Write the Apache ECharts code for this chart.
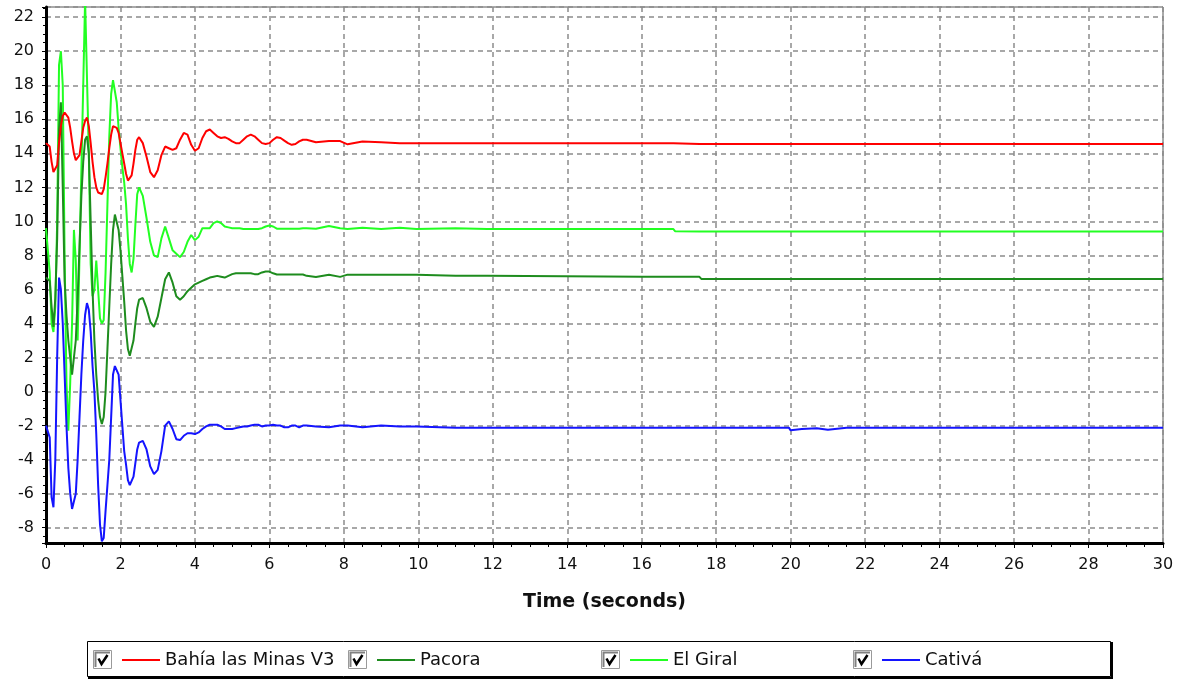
<!DOCTYPE html>
<html>
<head>
<meta charset="utf-8">
<title>Time (seconds)</title>
<script src="https://cdn.jsdelivr.net/npm/echarts@6/dist/echarts.min.js"></script>
<style>
    html, body { margin: 0; padding: 0; background: #fff; }
    #chart { width: 1179px; height: 680px; }
</style>
</head>
<body>
<div id="chart"></div>
<script>
// sample times (s)
var times = [
    0, 0.05, 0.1, 0.15, 0.2, 0.25, 0.3, 0.35, 0.4, 0.45, 0.5, 0.55, 0.6, 0.65, 0.7, 0.75, 0.8, 0.85, 0.9, 0.95,
    1, 1.05, 1.1, 1.15, 1.2, 1.25, 1.3, 1.35, 1.4, 1.45, 1.5, 1.55, 1.6, 1.65, 1.7, 1.75, 1.8, 1.85, 1.9, 1.95,
    2, 2.05, 2.1, 2.15, 2.2, 2.25, 2.3, 2.35, 2.4, 2.45, 2.5,
    2.6, 2.7, 2.8, 2.9, 3, 3.1, 3.2, 3.3, 3.4, 3.5, 3.6, 3.7, 3.8, 3.9, 4, 4.1, 4.2, 4.3, 4.4, 4.5,
    4.6, 4.7, 4.8, 4.9, 5, 5.1, 5.2, 5.3, 5.4, 5.5, 5.6, 5.7, 5.8, 5.9, 6, 6.1, 6.2, 6.3, 6.4, 6.5,
    6.6, 6.7, 6.8, 6.9, 7,
    7.25, 7.6, 7.9, 8.1, 8.5, 9, 9.5, 9.95, 10, 11, 11.85, 11.9, 16, 16.85, 16.9, 17.55, 17.6, 18, 19.95, 20,
    20.3, 20.7, 21, 21.5, 22, 26, 30
];

var bahiaLasMinas = [
    14.6, 14.6, 14.4, 13.5, 12.9, 12.8, 13.3, 14.6, 15.6, 16.2, 16.4, 16.5, 16.1, 15.5, 14.7, 14.0, 13.6, 13.6, 13.9, 14.7,
    15.5, 15.9, 16.1, 15.6, 14.6, 13.5, 12.6, 12.0, 11.7, 11.6, 11.6, 11.9, 12.6, 13.4, 14.3, 15.1, 15.6, 15.7, 15.5, 15.2,
    14.6, 14.0, 13.4, 12.8, 12.4, 12.4, 12.7, 13.4, 14.2, 14.8, 14.95,
    14.6, 13.8, 12.9, 12.6, 13.0, 13.9, 14.4, 14.3, 14.2, 14.3, 14.8, 15.2, 15.1, 14.5, 14.15, 14.3, 14.9, 15.3, 15.4, 15.2,
    15.0, 14.9, 14.95, 14.85, 14.7, 14.6, 14.6, 14.8, 15.0, 15.1, 15.0, 14.8, 14.6, 14.55, 14.6, 14.8, 14.95, 14.9, 14.75, 14.6,
    14.5, 14.55, 14.7, 14.8, 14.8,
    14.65, 14.72, 14.72, 14.53, 14.7, 14.65, 14.6, 14.6, 14.6, 14.6, 14.6, 14.6, 14.6, 14.6, 14.55, 14.55, 14.55, 14.55, 14.55, 14.55,
    14.55, 14.55, 14.55, 14.55, 14.55, 14.55, 14.55
];

var pacora = [
    6.7, 6.7, 6.5, 5.0, 3.8, 5.5, 9.0, 15.4, 17.0, 12.0, 6.5, 4.5, 3.0, 2.0, 1.0, 0.9, 3.0, 5.5, 8.5, 11.5,
    13.5, 14.8, 15.0, 14.0, 10.0, 6.0, 3.0, 1.0, -0.5, -1.5, -1.9, -1.5, 0.0, 2.5, 5.0, 7.5, 9.5, 10.4, 10.3, 9.5,
    8.3, 6.8, 5.3, 3.6, 2.5, 2.1, 2.2, 3.0, 4.0, 4.9, 5.4,
    5.5, 4.9, 4.1, 3.8, 4.4, 5.5, 6.6, 7.0, 6.4, 5.6, 5.4, 5.6, 5.9, 6.1, 6.3, 6.4, 6.5, 6.6, 6.7, 6.75,
    6.8, 6.75, 6.7, 6.8, 6.9, 6.95, 6.95, 6.95, 6.95, 6.95, 6.9, 6.9, 7.0, 7.05, 7.05, 6.95, 6.88, 6.88, 6.88, 6.88,
    6.88, 6.88, 6.88, 6.88, 6.8,
    6.73, 6.87, 6.74, 6.87, 6.87, 6.87, 6.87, 6.87, 6.87, 6.8, 6.8, 6.74, 6.74, 6.74, 6.74, 6.74, 6.62, 6.61, 6.61, 6.61,
    6.61, 6.61, 6.61, 6.61, 6.61, 6.61, 6.61
];

var elGiral = [
    9.6, 9.6, 7.0, 4.0, 3.5, 5.0, 10.0, 19.2, 20.0, 18.0, 8.0, 0.5, -2.3, 0.5, 4.0, 9.5, 7.7, 3.0, 8.0, 13.0,
    18.0, 23.0, 23.0, 14.0, 7.5, 5.6, 6.0, 7.7, 6.0, 4.3, 4.0, 4.2, 7.0, 11.0, 15.0, 17.5, 18.3, 18.2, 17.0, 15.5,
    14.3, 13.2, 12.3, 11.0, 9.0, 7.5, 7.0, 7.8, 9.8, 11.6, 12.0,
    11.5, 10.2, 8.8, 8.0, 7.9, 9.0, 9.7, 9.0, 8.3, 8.1, 7.9, 8.2, 8.8, 9.2, 8.9, 9.1, 9.6, 9.6, 9.6, 9.9,
    10.0, 9.9, 9.7, 9.65, 9.6, 9.6, 9.6, 9.55, 9.55, 9.55, 9.55, 9.55, 9.6, 9.7, 9.76, 9.7, 9.57, 9.57, 9.57, 9.57,
    9.57, 9.57, 9.57, 9.6, 9.6,
    9.57, 9.73, 9.6, 9.55, 9.62, 9.55, 9.62, 9.55, 9.55, 9.6, 9.55, 9.55, 9.55, 9.55, 9.42, 9.41, 9.41, 9.41, 9.41, 9.41,
    9.41, 9.41, 9.41, 9.41, 9.41, 9.41, 9.41
];

var cativa = [
    -2.0, -2.0, -2.7, -6.2, -6.8, -4.0, 2.0, 6.7, 6.0, 4.0, 1.0, -2.0, -4.5, -6.0, -6.9, -7.0, -6.0, -4.0, -1.5, 1.0,
    3.0, 4.5, 5.2, 4.8, 3.5, 1.5, 0.0, -2.5, -5.5, -7.8, -8.8, -8.6, -7.0, -5.5, -4.0, -1.5, 1.0, 1.5, 1.5, 1.0,
    -0.5, -2.0, -3.5, -4.3, -5.2, -5.5, -5.5, -5.0, -4.2, -3.4, -3.0,
    -2.9, -3.4, -4.4, -4.85, -4.6, -3.5, -2.0, -1.75, -2.2, -2.8, -2.85, -2.6, -2.45, -2.45, -2.5, -2.4, -2.2, -2.05, -1.95, -1.95,
    -1.95, -2.05, -2.2, -2.2, -2.2, -2.15, -2.1, -2.05, -2.05, -2.0, -1.95, -1.95, -2.05, -2.0, -2.0, -1.95, -2.0, -2.0, -2.1, -2.1,
    -2.0, -2.0, -2.1, -2.0, -2.0,
    -2.05, -2.1, -2.0, -2.0, -2.1, -2.0, -2.05, -2.05, -2.12, -2.12, -2.12, -2.12, -2.12, -2.12, -2.12, -2.12, -2.12, -2.12, -2.12, -2.28,
    -2.2, -2.15, -2.25, -2.12, -2.12, -2.12, -2.12
];

var seriesNames = ["Bahía las Minas V3", "Pacora", "El Giral", "Cativá"];
var seriesColors = ["#ff0000", "#1e8c1e", "#22ff22", "#1414ff"];
var seriesValues = [bahiaLasMinas, pacora, elGiral, cativa];

var yMin = -8.9;
var yMax = 22.6;

var chart = echarts.init(document.getElementById("chart"));

function toPairs(values) {
    return times.map(function (t, i) { return [t, values[i]]; });
}

// lime first so the others sit on top, red last
var drawOrder = [2, 1, 3, 0];
var series = drawOrder.map(function (idx) {
    return {
        name: seriesNames[idx],
        type: "line",
        showSymbol: false,
        symbol: "none",
        clip: true,
        animation: false,
        data: toPairs(seriesValues[idx]),
        lineStyle: { color: seriesColors[idx], width: 2 },
        itemStyle: { color: seriesColors[idx] }
    };
});

// one legend per entry, laid out like the original box
var legendLefts = [122, 377, 630, 882];
var legendList = seriesNames.map(function (name, idx) {
    return {
        data: [{ name: name, icon: "rect" }],
        left: legendLefts[idx],
        top: 651,
        padding: 0,
        itemWidth: 38,
        itemHeight: 2,
        itemGap: 0,
        selectedMode: false,
        textStyle: { fontFamily: "DejaVu Sans", fontSize: 18, color: "#111" }
    };
});

var graphics = [{
    type: "rect",
    shape: { x: 87.5, y: 641.5, width: 1023, height: 35 },
    style: { fill: "#fff", stroke: "#000", lineWidth: 1 },
    z: -1
}, {
    type: "polyline",
    shape: { points: [[1112, 642], [1112, 678], [88, 678]] },
    style: { fill: null, stroke: "#000", lineWidth: 2 }
}];
legendLefts.forEach(function (left) {
    var bx = left - 29, by = 650;
    graphics.push({
        type: "rect",
        shape: { x: bx + 0.5, y: by + 0.5, width: 18, height: 18 },
        style: { fill: "#fff", stroke: "#9a9a9a", lineWidth: 1 }
    });
    graphics.push({
        type: "polyline",
        shape: { points: [[bx + 2.5, by + 17], [bx + 2.5, by + 2.5], [bx + 17, by + 2.5]] },
        style: { fill: null, stroke: "#808080", lineWidth: 2 }
    });
    graphics.push({
        type: "polyline",
        shape: { points: [[bx + 5.5, by + 8.5], [bx + 8.5, by + 14], [bx + 14.5, by + 5]] },
        style: { fill: null, stroke: "#000", lineWidth: 2.5 }
    });
});

var gridLine = { color: "#8c8c8c", type: [5, 4], width: 1.5 };

var option = {
    backgroundColor: "#fff",
    animation: false,
    grid: {
        left: 46,
        right: 16,
        top: 7,
        bottom: 137,
        show: true,
        borderColor: "#555",
        borderWidth: 1
    },
    legend: legendList,
    graphic: graphics,
    xAxis: {
        type: "value",
        min: 0,
        max: 30,
        interval: 2,
        name: "Time (seconds)",
        nameLocation: "middle",
        nameGap: 50,
        nameTextStyle: { fontFamily: "DejaVu Sans", fontSize: 19, fontWeight: "bold", color: "#111" },
        axisLine: { show: true, onZero: false, lineStyle: { color: "#000", width: 3 } },
        axisTick: { show: true, length: 5, lineStyle: { color: "#000", width: 1 } },
        minorTick: { show: true, splitNumber: 4, length: 4, lineStyle: { color: "#000", width: 1 } },
        axisLabel: { margin: 14, fontFamily: "DejaVu Sans", fontSize: 16, color: "#111" },
        splitLine: { show: true, lineStyle: gridLine }
    },
    yAxis: {
        type: "value",
        min: yMin,
        max: yMax,
        splitNumber: 15,
        minInterval: 2,
        maxInterval: 2,
        axisLine: { show: true, onZero: false, lineStyle: { color: "#000", width: 3 } },
        axisTick: { show: true, length: 4, lineStyle: { color: "#000", width: 1 } },
        minorTick: { show: true, splitNumber: 4, length: 3, lineStyle: { color: "#000", width: 1 } },
        axisLabel: {
            margin: 12,
            fontFamily: "DejaVu Sans",
            fontSize: 16,
            color: "#111",
            formatter: function (v) {
                return Math.abs(Math.round(v) - v) < 1e-6 && Math.round(v) % 2 === 0 ? String(Math.round(v)) : "";
            }
        },
        splitLine: { show: true, lineStyle: gridLine }
    },
    series: series
};

chart.setOption(option);
</script>
</body>
</html>
